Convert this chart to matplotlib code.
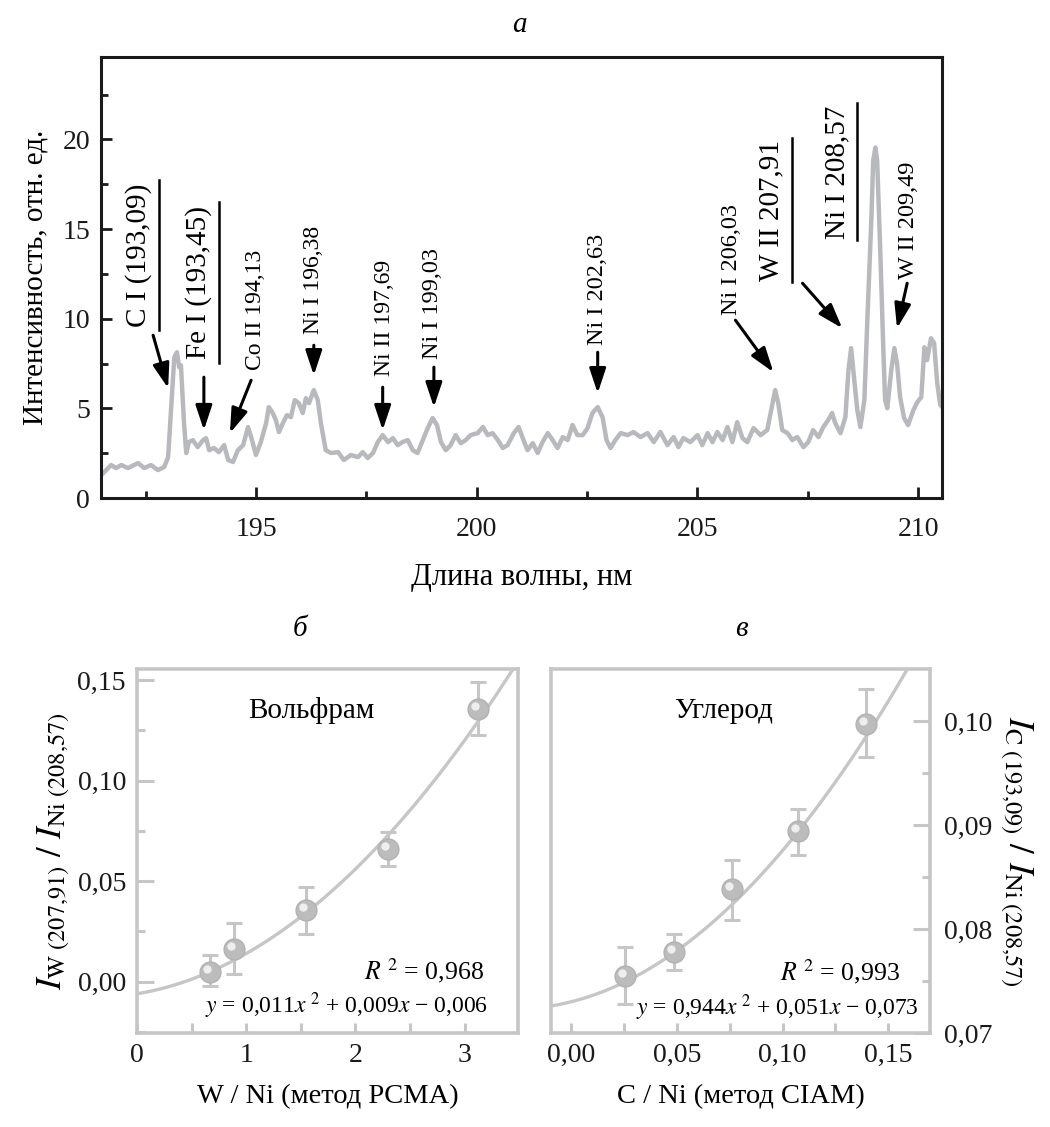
# -*- coding: utf-8 -*-

import matplotlib
matplotlib.use("Agg")
import matplotlib.pyplot as plt
from matplotlib.transforms import offset_copy
import numpy as np

plt.rcParams['font.family'] = ['Liberation Serif', 'DejaVu Serif']
plt.rcParams['mathtext.fontset'] = 'stix'

# spectrum (a)
wavelength = [191.49, 191.54, 191.72, 191.83, 191.95, 192.10, 192.33, 192.47, 192.62, 192.78, 192.92,
              193.01, 193.08, 193.15, 193.21, 193.26, 193.30, 193.37, 193.42, 193.48, 193.57,
              193.68, 193.80, 193.87, 193.94, 194.05, 194.16, 194.28, 194.37, 194.48, 194.59,
              194.71, 194.82, 194.91, 195.00, 195.11, 195.23, 195.29, 195.38, 195.45, 195.52,
              195.61, 195.70, 195.79, 195.88, 195.97, 196.06, 196.13, 196.20, 196.31, 196.40,
              196.47, 196.58, 196.70, 196.86, 196.99, 197.15, 197.31, 197.42, 197.53, 197.65,
              197.76, 197.87, 197.99, 198.10, 198.21, 198.32, 198.44, 198.55, 198.66, 198.78,
              198.89, 199.00, 199.10, 199.19, 199.30, 199.41, 199.52, 199.64, 199.75, 199.86,
              200.02, 200.14, 200.25, 200.36, 200.48, 200.59, 200.70, 200.84, 200.95, 201.06,
              201.15, 201.27, 201.38, 201.49, 201.61, 201.72, 201.83, 201.95, 202.06, 202.17,
              202.28, 202.40, 202.51, 202.62, 202.74, 202.85, 202.94, 203.03, 203.14, 203.26,
              203.42, 203.55, 203.71, 203.87, 204.01, 204.16, 204.32, 204.46, 204.57, 204.68,
              204.84, 205.00, 205.11, 205.23, 205.34, 205.45, 205.57, 205.68, 205.79, 205.90,
              206.02, 206.13, 206.27, 206.43, 206.58, 206.70, 206.76, 206.83, 206.92, 207.04,
              207.15, 207.26, 207.40, 207.51, 207.62, 207.74, 207.85, 207.96, 208.05, 208.12,
              208.24, 208.35, 208.42, 208.48, 208.53, 208.62, 208.69, 208.78, 208.85, 208.94,
              208.98, 209.03, 209.07, 209.14, 209.21, 209.25, 209.30, 209.39, 209.46, 209.52,
              209.59, 209.68, 209.77, 209.89, 209.98, 210.07, 210.14, 210.20, 210.29, 210.36,
              210.43, 210.50, 210.57]
intensity = [1.28, 1.39, 1.84, 1.67, 1.84, 1.67, 1.95, 1.67, 1.84, 1.56, 1.73,
             2.28, 5.07, 7.86, 8.13, 7.30, 7.41, 4.18, 2.51, 3.12, 3.23,
             2.84, 3.23, 3.34, 2.67, 2.79, 2.56, 2.95, 2.12, 2.01, 2.67,
             2.95, 3.96, 3.23, 2.40, 3.12, 4.18, 5.07, 4.74, 4.35, 3.68,
             4.18, 4.62, 4.51, 5.46, 5.29, 4.74, 5.57, 5.29, 6.02, 5.46,
             4.18, 2.67, 2.51, 2.56, 2.12, 2.40, 2.28, 2.56, 2.23, 2.51,
             3.12, 3.51, 3.12, 3.34, 2.95, 3.12, 3.23, 2.67, 2.51, 3.23,
             3.90, 4.46, 4.07, 3.12, 2.67, 2.95, 3.51, 3.06, 3.23, 3.51,
             3.62, 3.96, 3.51, 3.62, 3.23, 2.79, 2.95, 3.62, 3.96, 3.23,
             2.67, 3.06, 2.51, 3.12, 3.62, 3.23, 2.79, 3.40, 3.23, 4.07,
             3.51, 3.51, 3.90, 4.74, 5.07, 4.51, 3.23, 2.79, 3.23, 3.62,
             3.51, 3.68, 3.40, 3.62, 3.12, 3.68, 2.95, 3.40, 2.84, 3.34,
             3.12, 3.51, 2.95, 3.62, 3.12, 3.68, 3.23, 3.96, 3.12, 4.23,
             3.34, 3.12, 3.90, 3.51, 3.79, 5.29, 6.02, 5.29, 3.79, 3.62,
             3.23, 3.40, 2.84, 3.12, 3.79, 3.40, 3.96, 4.35, 4.74, 4.18,
             3.62, 4.51, 7.13, 8.36, 7.13, 4.90, 3.96, 5.46, 10.08, 15.65,
             18.83, 19.55, 18.83, 13.82, 8.25, 5.46, 5.01, 7.13, 8.36, 7.52,
             5.63, 4.46, 4.07, 4.90, 5.35, 5.63, 8.41, 7.69, 8.91, 8.64,
             6.41, 5.18, 5.01]

# line labels: text, text x, text y, fontsize, arrow tail, arrow tip, underline (x, y0, y1)
lines = [
    ("C I (193,09)", 192.33, 13.54, 21, (192.67, 9.08), (193.01, 6.13), (192.81, 9.36, 17.72)),
    ("Fe I (193,45)", 193.69, 12.03, 21, (193.82, 6.74), (193.82, 3.79), (194.16, 7.52, 16.49)),
    ("Co II 194,13", 194.98, 10.47, 17, (194.89, 6.57), (194.41, 3.62), None),
    ("Ni I 196,38", 196.31, 12.14, 17, (196.31, 8.52), (196.31, 6.85), None),
    ("Ni II 197,69", 197.92, 10.03, 17, (197.87, 6.18), (197.87, 3.79), None),
    ("Ni I 199,03", 199.00, 10.86, 17.5, (199.03, 7.30), (199.03, 5.07), None),
    ("Ni I 202,63", 202.74, 11.64, 17.5, (202.74, 8.13), (202.74, 5.85), None),
    ("Ni I 206,03", 205.77, 13.31, 17.5, (205.86, 9.92), (206.72, 7.02), None),
    ("W II 207,91", 206.67, 16.04, 21, (207.38, 11.98), (208.28, 9.47), (207.13, 12.03, 20.06)),
    ("Ni I 208,57", 208.17, 18.16, 21, None, None, (208.62, 14.37, 22.06)),
    ("W II 209,49", 209.77, 15.49, 17.5, (209.75, 11.98), (209.52, 9.47), None),
]

# calibration (б) tungsten
w_x = [0.67, 0.89, 1.55, 2.30, 3.12]
w_y = [0.0046, 0.0162, 0.0356, 0.066, 0.1356]
w_lo = [-0.0023, 0.0038, 0.0237, 0.0577, 0.1226]
w_hi = [0.0133, 0.029, 0.0472, 0.0742, 0.1488]
w_fit = [0.011, 0.009, -0.006]

# calibration (в) carbon
c_x = [0.0257, 0.0487, 0.0762, 0.1073, 0.1397]
c_y = [0.0755, 0.0778, 0.0838, 0.0894, 0.0997]
c_lo = [0.0728, 0.0761, 0.0809, 0.0871, 0.0965]
c_hi = [0.0783, 0.0795, 0.0866, 0.0915, 0.1031]
c_fit = [0.944, 0.051, 0.073]

fig = plt.figure(figsize=(10.5, 11.27), dpi=100)

# ---------- (a) spectrum ----------
ax = fig.add_axes([0.0962, 0.5581, 0.801, 0.3913])
ax.plot(wavelength, intensity, color='#b8b9bc', lw=3.2, solid_joinstyle='round')
ax.set_xlim(191.49, 210.54)
ax.set_ylim(0, 24.6)
ax.set_xticks([195, 200, 205, 210])
ax.set_xticks([192.5, 197.5, 202.5, 207.5], minor=True)
ax.set_yticks([0, 5, 10, 15, 20])
ax.set_yticks([2.5, 7.5, 12.5, 17.5, 22.5], minor=True)
ax.tick_params(which='both', direction='in', width=2, colors='#1a1a1a', labelsize=20,
               labelcolor='#1a1a1a')
ax.tick_params(which='major', length=8)
ax.tick_params(which='minor', length=5)
ax.tick_params(axis='x', pad=14)
ax.tick_params(axis='y', pad=8)
for s in ax.spines.values():
    s.set_linewidth(2.2)
    s.set_color('#1a1a1a')
ax.set_xlabel("Длина волны, нм", fontsize=22, labelpad=15)
ax.set_ylabel("Интенсивность, отн. ед.", fontsize=21, labelpad=10)

for text, tx, ty, fs, tail, tip, ul in lines:
    ax.text(tx, ty, text, rotation=90, fontsize=fs, ha='center', va='center')
    if tail is not None:
        ax.annotate('', xy=tip, xytext=tail,
                    arrowprops=dict(arrowstyle='-|>,head_length=0.75,head_width=0.25',
                                    color='black', lw=2.2, mutation_scale=20,
                                    shrinkA=0, shrinkB=0))
    if ul is not None:
        ax.plot([ul[0], ul[0]], [ul[1], ul[2]], color='black', lw=1.8)

fig.text(0.495, 0.978, "а", fontsize=21, style='italic', ha='center', va='center')


def calib_panel(rect, xs, ys, lo, hi, fit, xlim, ylim):
    a = fig.add_axes(rect)
    gray = '#c6c6c6'
    err = [np.array(ys) - np.array(lo), np.array(hi) - np.array(ys)]
    a.errorbar(xs, ys, yerr=err, fmt='none', ecolor=gray, elinewidth=2.2,
               capsize=6, capthick=2.2, zorder=2)
    xx = np.linspace(xlim[0], xlim[1], 300)
    a.plot(xx, np.polyval(fit, xx), color=gray, lw=2.4, zorder=3)
    a.plot(xs, ys, 'o', ms=15, color='#bcbcbc', mec='#b2b2b2', zorder=4)
    hl = offset_copy(a.transData, fig=fig, x=-3, y=3, units='dots')
    a.plot(xs, ys, 'o', ms=6, color='#f4f4f4', mec='none', alpha=0.9, zorder=5, transform=hl)
    a.set_xlim(*xlim)
    a.set_ylim(*ylim)
    for s in a.spines.values():
        s.set_linewidth(2.6)
        s.set_color(gray)
    a.tick_params(which='both', direction='in', width=2.2, color=gray, labelsize=20,
                  labelcolor='#1a1a1a')
    a.tick_params(which='major', length=12)
    a.tick_params(which='minor', length=6)
    a.tick_params(axis='x', which='both', length=7, pad=7)
    return a


# ---------- (б) tungsten ----------
ab = calib_panel([0.1305, 0.0834, 0.3629, 0.323], w_x, w_y, w_lo, w_hi, w_fit,
                 (0, 3.49), (-0.0255, 0.1555))
ab.set_xticks([0, 1, 2, 3])
ab.set_xticks([0.5, 1.5, 2.5], minor=True)
ab.set_xticklabels(['0', '1', '2', '3'])
ab.set_yticks([0.0, 0.05, 0.10, 0.15])
ab.set_yticks([-0.025, 0.025, 0.075, 0.125], minor=True)
ab.set_yticklabels(['0,00', '0,05', '0,10', '0,15'])
ab.tick_params(axis='y', pad=8)
ab.text(0.457, 0.885, "Вольфрам", transform=ab.transAxes, fontsize=21, ha='center', va='center')
ab.text(0.91, 0.171, r"$R^{\ 2}$ = 0,968", transform=ab.transAxes, fontsize=18.5, ha='right', va='center')
ab.text(0.92, 0.075, r"$y$ = 0,011$x^{\ 2}$ + 0,009$x$ − 0,006", transform=ab.transAxes,
        fontsize=17, ha='right', va='center')
ab.set_xlabel("W / Ni (метод PCMA)", fontsize=20.5, labelpad=12)
ab.set_ylabel(r"$I_{\mathrm{W\ (207{,}91)}}\ /\ I_{\mathrm{Ni\ (208{,}57)}}$", fontsize=25, labelpad=4)
fig.text(0.286, 0.442, "б", fontsize=21, style='italic', ha='center', va='center')

# ---------- (в) carbon ----------
ac = calib_panel([0.5248, 0.0834, 0.361, 0.323], c_x, c_y, c_lo, c_hi, c_fit,
                 (-0.0095, 0.1698), (0.07, 0.105))
ac.yaxis.tick_right()
ac.yaxis.set_label_position('right')
ac.set_xticks([0.0, 0.05, 0.10, 0.15])
ac.set_xticks([0.025, 0.075, 0.125], minor=True)
ac.set_xticklabels(['0,00', '0,05', '0,10', '0,15'])
ac.set_yticks([0.07, 0.08, 0.09, 0.10])
ac.set_yticks([0.075, 0.085, 0.095], minor=True)
ac.set_yticklabels(['0,07', '0,08', '0,09', '0,10'])
ac.tick_params(axis='y', pad=10)
ac.text(0.456, 0.885, "Углерод", transform=ac.transAxes, fontsize=21, ha='center', va='center')
ac.text(0.92, 0.17, r"$R^{\ 2}$ = 0,993", transform=ac.transAxes, fontsize=18.5, ha='right', va='center')
ac.text(0.969, 0.069, r"$y$ = 0,944$x^{\ 2}$ + 0,051$x$ − 0,073", transform=ac.transAxes,
        fontsize=17, ha='right', va='center')
ac.set_xlabel("C / Ni (метод CIAM)", fontsize=20.5, labelpad=12)
ac.set_ylabel(r"$I_{\mathrm{C\ (193{,}09)}}\ /\ I_{\mathrm{Ni\ (208{,}57)}}$", fontsize=25,
              rotation=270, labelpad=30)
fig.text(0.706, 0.442, "в", fontsize=21, style='italic', ha='center', va='center')

fig.savefig("out.png", dpi=100)
